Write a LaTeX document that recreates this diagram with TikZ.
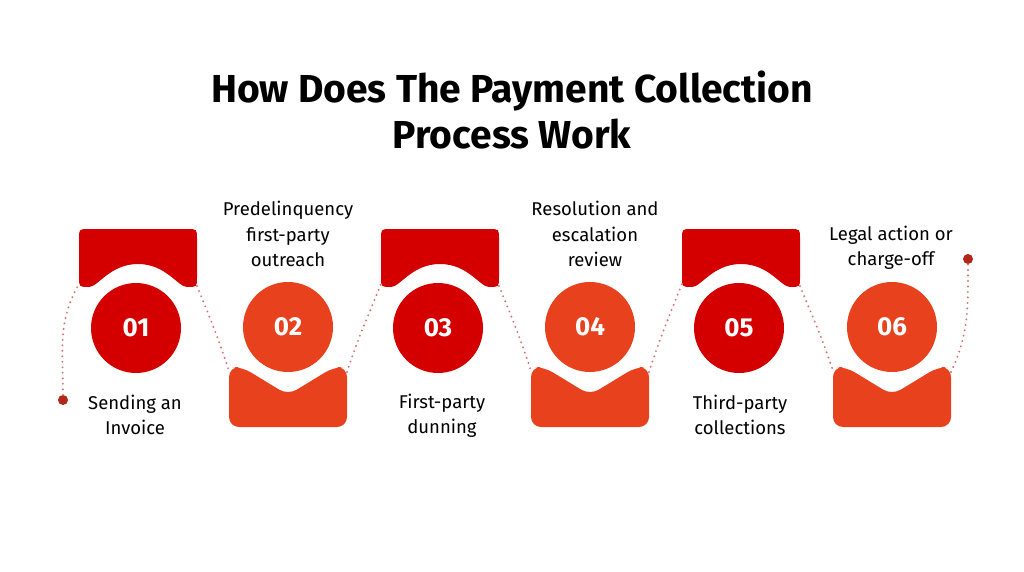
\documentclass[tikz,border=0pt]{standalone}
\usepackage{fontspec}
\setmainfont{Fira Sans}
\usetikzlibrary{calc}
\definecolor{deepred}{HTML}{D40000}
\definecolor{flame}{HTML}{E8411D}
\definecolor{dotred}{HTML}{B3271B}
\definecolor{trail}{HTML}{D4716B}

\tikzset{
  numcircle/.style={circle,minimum size=90pt,inner sep=0pt,text=white,
    font=\fontsize{26}{26}\selectfont\bfseries},
  steplabel/.style={align=center,inner sep=0pt,text=black,
    font=\fontsize{18.5}{25.5}\selectfont},
  trailline/.style={trail,line width=2.1pt,dash pattern=on 0pt off 5.5pt,line cap=round},
  enddot/.style={circle,fill=dotred,minimum size=10pt,inner sep=0pt},
}

\begin{document}
\begin{tikzpicture}[x=1pt,y=-1pt]
\useasboundingbox (0,0) rectangle (1024,572);
\fill[white] (0,0) rectangle (1024,572);
% title
\node[font=\fontsize{39}{46}\selectfont\bfseries,align=center,inner sep=0pt] (title) at (512,110)
  {How Does The Payment Collection\\Process Work};

% top cards (odd steps)
\foreach \n/\x in {1/138,3/440,5/741}{
    \fill[deepred] (\x-49,229) -- (\x+49,229) .. controls (\x+59,229) .. (\x+59,239)
      -- (\x+59,277) .. controls (\x+59,287) .. (\x+49,287)
      .. controls (\x+40,287) and (\x+28,264) .. (\x,264)
      .. controls (\x-28,264) and (\x-40,287) .. (\x-49,287)
      .. controls (\x-59,287) .. (\x-59,277) -- (\x-59,239)
      .. controls (\x-59,229) .. (\x-49,229) -- cycle;
    \coordinate (tl\n) at (\x-59,284);
    \coordinate (tr\n) at (\x+59,286);
    \node[numcircle,fill=deepred] (c\n) at (\x-2,328) {0\n};
}
% bottom cards (even steps)
\foreach \n/\x in {2/288,4/590,6/892}{
    \fill[flame,rounded corners=10pt] (\x-59,427) -- (\x-59,367) -- (\x-46,367)
      -- (\x,395) -- (\x+46,367) -- (\x+59,367) -- (\x+59,427) -- cycle;
    \coordinate (bl\n) at (\x-59,371);
    \coordinate (br\n) at (\x+59,372);
    \node[numcircle,fill=flame] (c\n) at (\x,327) {0\n};
}

% labels
\node[steplabel] (l1) at (135,415) {Sending an\\Invoice};
\node[steplabel] (l2) at (288,234) {Predelinquency\\first-party\\outreach};
\node[steplabel] (l3) at (442,416) {First-party\\dunning};
\node[steplabel] (l4) at (595,234) {Resolution and\\escalation\\review};
\node[steplabel] (l5) at (740,415) {Third-party\\collections};
\node[steplabel] (l6) at (891,248) {Legal action or\\charge-off};

% dotted trail
\node[enddot] (start) at (63,400) {};
\node[enddot] (finish) at (968,259) {};
\draw[trailline] (start) to[out=90,in=-120] (tl1);
\draw[trailline] (tr1) to[out=-68,in=108] (bl2);
\draw[trailline] (br2) to[out=72,in=-112] (tl3);
\draw[trailline] (tr3) to[out=-68,in=108] (bl4);
\draw[trailline] (br4) to[out=72,in=-112] (tl5);
\draw[trailline] (tr5) to[out=-68,in=108] (bl6);
\draw[trailline] (br6) to[out=65,in=-90] (finish);
\end{tikzpicture}
\end{document}
